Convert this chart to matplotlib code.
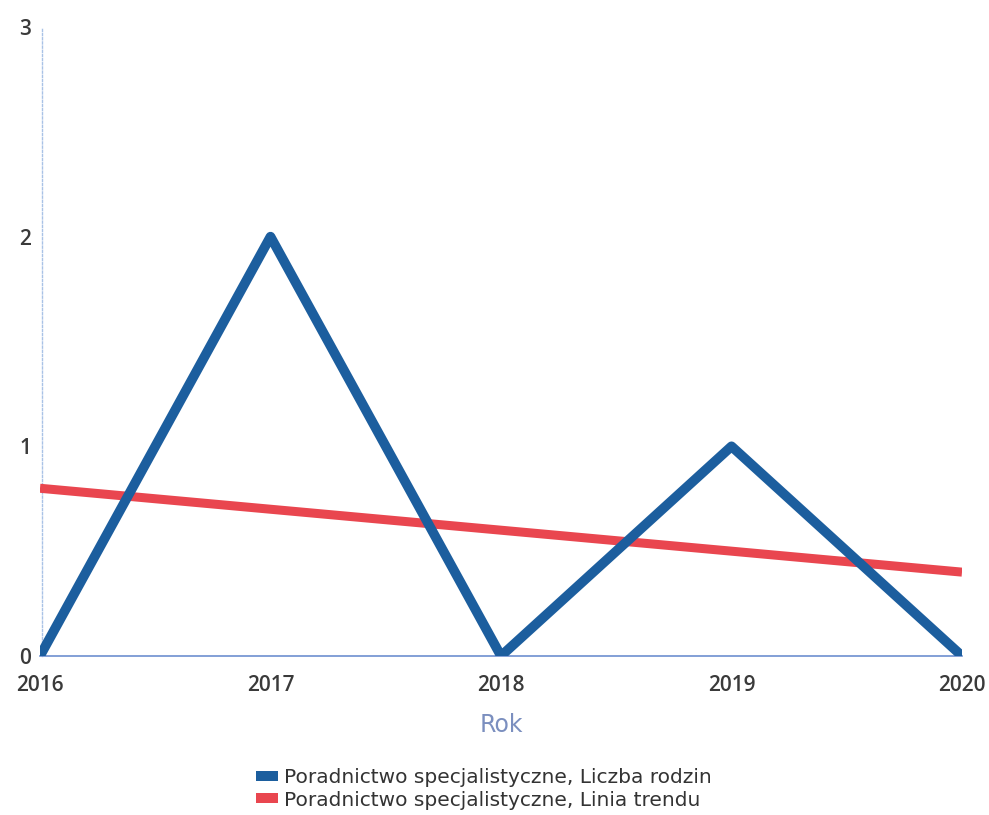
import matplotlib
matplotlib.use("Agg")
import matplotlib.pyplot as plt
from matplotlib.patches import Patch

years = [2016, 2017, 2018, 2019, 2020]
families = [0, 2, 0, 1, 0]
trend = [0.8, 0.7, 0.6, 0.5, 0.4]
yticks = [0, 1, 2, 3]

fig = plt.figure(figsize=(9.89, 8.15), dpi=100)
ax = fig.add_axes([40/989, (815-656)/815, (962-40)/989, (656-27)/815])

blue = "#1c5e9e"
red = "#e9464f"
ax.plot(years, trend, color=red, lw=6.5, solid_capstyle="butt", zorder=3)
ax.plot(years, families, color=blue, lw=7, solid_joinstyle="round", solid_capstyle="butt", zorder=4)

for s in ["top", "right"]:
    ax.spines[s].set_visible(False)
ax.spines["left"].set_position(("data", 2016.01))
ax.spines["left"].set_color("#a9c2e6")
ax.spines["left"].set_linestyle((0, (1.5, 1.5)))
ax.spines["left"].set_linewidth(1)
ax.spines["bottom"].set_color("#6d8fd0")
ax.spines["bottom"].set_linewidth(1.2)

ax.set_xlim(2016, 2020)
ax.set_ylim(0, 3)
ax.set_xticks(years)
ax.set_yticks(yticks)
ax.tick_params(length=0)
ax.tick_params(axis="y", pad=8)
ax.tick_params(axis="x", pad=14)
for lab in ax.get_xticklabels() + ax.get_yticklabels():
    lab.set_fontfamily("Open Sans")
    lab.set_fontweight("semibold")
    lab.set_fontsize(15)
    lab.set_color("#3a3a3a")

ax.set_xlabel("Rok", fontsize=17, color="#7b8fbf", family="DejaVu Sans", labelpad=12)

handles = [Patch(facecolor=blue, edgecolor="none"),
           Patch(facecolor=red, edgecolor="none")]
labels = ["Poradnictwo specjalistyczne, Liczba rodzin",
          "Poradnictwo specjalistyczne, Linia trendu"]
fig.legend(handles, labels, loc="center", bbox_to_anchor=(484/989, 1-789/815),
           frameon=False, prop={"family": "DejaVu Sans", "size": 14.5},
           handlelength=1.1, handleheight=0.4, handletextpad=0.3, labelspacing=0.15,
           labelcolor="#333333")

fig.savefig("out.png", dpi=100)
